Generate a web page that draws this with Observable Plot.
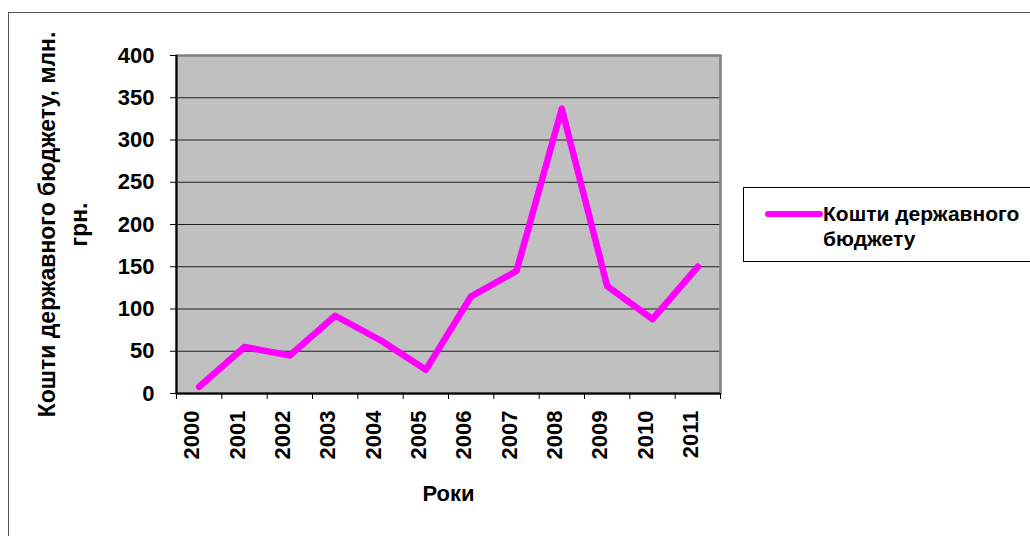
<!DOCTYPE html>
<html>
<head>
<meta charset="utf-8">
<script src="https://cdn.jsdelivr.net/npm/d3@7"></script>
<script src="https://cdn.jsdelivr.net/npm/@observablehq/plot@0.6"></script>
<style>
  html, body { margin: 0; padding: 0; background: #fff; }
  #wrap { position: relative; width: 1030px; height: 536px; overflow: hidden; font-family: "Liberation Sans", Arial, sans-serif; }
  #chart { position: absolute; left: 0; top: 0; }
  #outer { position: absolute; left: 8px; top: 12px; width: 1100px; height: 700px; border: 1px solid #555; pointer-events: none; }
  #legend { position: absolute; left: 743px; top: 187px; width: 400px; height: 73px; border: 1px solid #000; background: #fff; }
  #legend svg { position: absolute; left: 20px; top: 20px; }
  #legend .txt { position: absolute; left: 79px; top: 13px; font-weight: bold; font-size: 21px; line-height: 25px; color: #000; white-space: nowrap; }
</style>
</head>
<body>
<div id="wrap">
  <div id="chart"></div>
  <div id="outer"></div>
  <div id="legend"></div>
</div>
<script>
const years = [2000, 2001, 2002, 2003, 2004, 2005, 2006, 2007, 2008, 2009, 2010, 2011];
const values = [8, 55, 45, 92, 63, 28, 115, 145, 337, 127, 88, 150];
const yTicks = [0, 50, 100, 150, 200, 250, 300, 350, 400];
const yLabel = "Кошти державного бюджету, млн.\nгрн.";
const xLabel = "Роки";
const legendLines = ["Кошти державного", "бюджету"];
const lineColor = "#ff00ff";

const data = years.map((year, i) => ({year, value: values[i]}));
const bounds = [...years.map(y => y - 0.5), years[years.length - 1] + 0.5];

const chart = Plot.plot({
  width: 1030,
  height: 536,
  marginLeft: 176,
  marginRight: 310,
  marginTop: 55,
  marginBottom: 143,
  x: {type: "linear", domain: [bounds[0], bounds[bounds.length - 1]], axis: null},
  y: {domain: [0, 400], axis: null},
  style: {
    background: "transparent",
    fontFamily: "'Liberation Sans', Arial, sans-serif",
    fontSize: "21px",
    fontWeight: "bold",
    color: "#000"
  },
  marks: [
    Plot.frame({fill: "#c0c0c0", stroke: "none"}),
    Plot.gridY(yTicks, {stroke: "#000", strokeOpacity: 0.85, strokeWidth: 1.2}),
    Plot.frame({stroke: "#808080", strokeWidth: 2.5}),
    Plot.ruleX([bounds[0]], {stroke: "#000", strokeWidth: 2}),
    Plot.ruleY([0], {stroke: "#000", strokeWidth: 2}),
    Plot.axisY(yTicks, {anchor: "left", tickSize: 6, tickPadding: 16, fontSize: 22, fontWeight: "bold", label: null, stroke: "#000"}),
    Plot.axisX(bounds, {anchor: "bottom", tickSize: 6, tickFormat: () => "", label: null, stroke: "#000"}),
    Plot.line(data, {x: "year", y: "value", stroke: lineColor, strokeWidth: 6.5, strokeLinecap: "round", strokeLinejoin: "round"}),
    Plot.text(years, {x: d => d, frameAnchor: "bottom", text: d => String(d), rotate: -90, textAnchor: "end", dy: 17, fontSize: 22, fontWeight: "bold", fill: "#000"}),
    Plot.text([yLabel], {frameAnchor: "left", text: d => d, dx: -116, rotate: -90, textAnchor: "middle", lineAnchor: "middle", lineHeight: 1.38, fontSize: 23, fontWeight: "bold", fill: "#000"}),
    Plot.text([xLabel], {frameAnchor: "bottom", text: d => d, dy: 107, fontSize: 22, fontWeight: "bold", fill: "#000"})
  ]
});
document.getElementById("chart").appendChild(chart);

// legend
const legend = d3.select("#legend");
const sw = legend.append("svg").attr("width", 60).attr("height", 12);
sw.append("line").attr("x1", 4).attr("x2", 56).attr("y1", 6).attr("y2", 6)
  .attr("stroke", lineColor).attr("stroke-width", 6).attr("stroke-linecap", "round");
legend.append("div").attr("class", "txt").html(legendLines.join("<br>"));
</script>
</body>
</html>
